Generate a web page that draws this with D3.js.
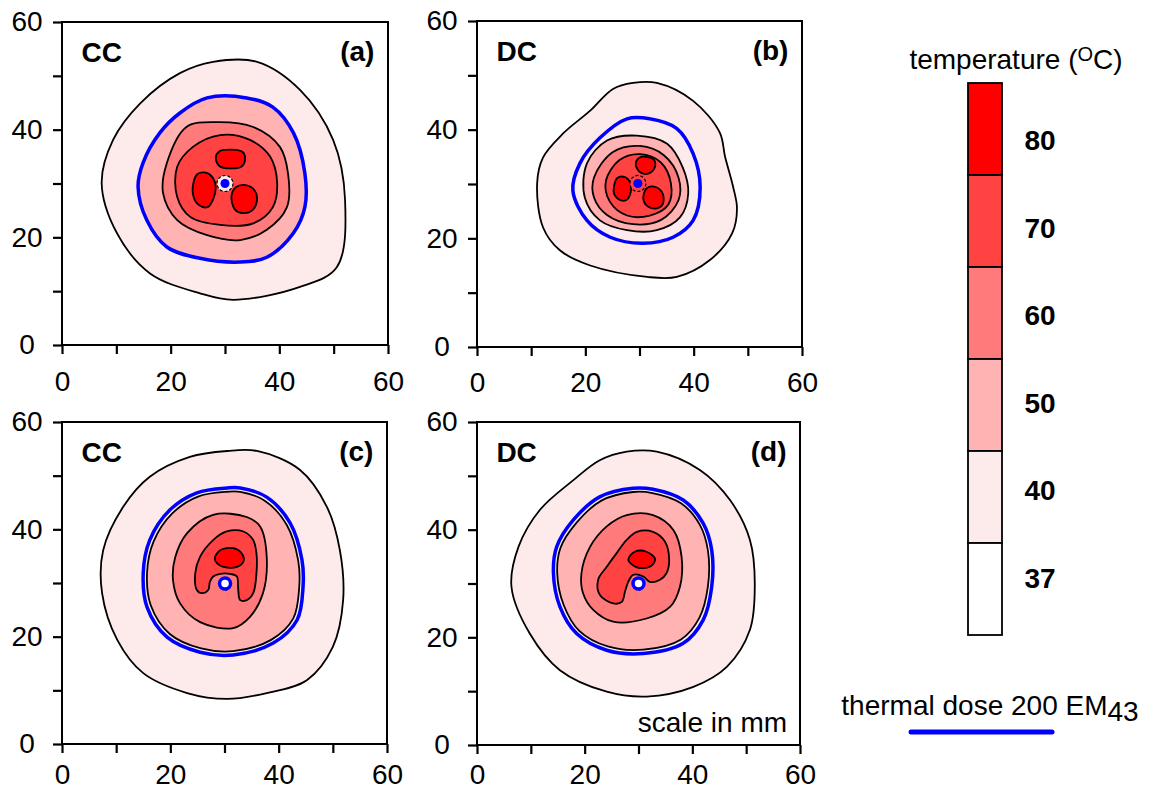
<!DOCTYPE html>
<html>
<head>
<meta charset="utf-8">
<script src="https://cdn.jsdelivr.net/npm/d3@7"></script>
<style>
    body { margin: 0; background: #fff; }
    svg { display: block; font-family: "Liberation Sans", Arial, sans-serif; }
</style>
</head>
<body>
<svg id="chart" width="1156" height="794"></svg>
<script>
// temperature levels of the colour bar, top to bottom
const levels = [80, 70, 60, 50, 40, 37];
const levelColors = ['#ff0000', '#ff4242', '#ff7b7b', '#ffb3b3', '#fdebeb', '#ffffff'];
const axisTicks = [0, 10, 20, 30, 40, 50, 60];
const axisLabels = [0, 20, 40, 60];

// isotherms, [x mm, y mm]
const aOuter = [[27.8, 52.6], [35.9, 52.6], [43.8, 47.4], [49.9, 38.1], [52.1, 26.9], [50.6, 14.5], [43.8, 10.8], [31.5, 8.4], [25.4, 9.6], [16.2, 13.3], [10.1, 20.8], [7.3, 30.1], [9.4, 38.1], [14.4, 44.9], [21.7, 50.5]];
const aDose = [[26.7, 45.9], [34.0, 45.9], [38.8, 44.2], [42.6, 39.4], [44.7, 31.9], [44.7, 25.6], [42.6, 20.8], [37.7, 16.3], [32.8, 15.4], [25.4, 16.1], [19.3, 18.2], [15.6, 23.2], [14.0, 29.4], [14.9, 33.8], [18.0, 39.4], [21.7, 43.1]];
const a60 = [[19.3, 33.8], [22.9, 40.5], [28.5, 41.4], [35.2, 40.5], [40.1, 36.8], [41.6, 31.9], [41.4, 25.6], [37.7, 21.4], [32.8, 19.5], [26.7, 20.4], [21.2, 23.2], [18.6, 28.2]];
const a70 = [[21.2, 33.1], [24.1, 36.8], [29.1, 39.0], [34.6, 38.1], [38.3, 35.0], [39.6, 30.1], [38.8, 25.6], [35.2, 22.6], [29.1, 22.3], [23.6, 23.8], [21.2, 27.5]];
const a80 = [
    [[28.3, 34.8], [29.0, 36.0], [31.0, 36.3], [33.2, 35.9], [33.7, 34.5], [33.0, 33.1], [31.0, 32.8], [29.0, 33.2]],
    [[24.2, 30.2], [25.0, 31.8], [26.5, 32.0], [27.8, 31.0], [28.3, 29.3], [27.8, 27.0], [26.8, 25.6], [25.2, 26.0], [24.2, 27.6]],
    [[31.2, 27.8], [32.0, 29.3], [33.8, 29.7], [35.4, 28.8], [35.9, 27.0], [35.0, 25.0], [33.3, 24.5], [31.8, 25.2]],
];

const bOuter = [[28.8, 48.6], [33.2, 48.6], [39.9, 45.3], [44.8, 39.5], [45.8, 35.0], [47.3, 29.4], [48.0, 25.5], [47.1, 20.9], [43.0, 16.0], [36.9, 12.9], [31.4, 12.9], [20.9, 15.0], [15.3, 17.8], [12.2, 22.0], [11.1, 30.1], [12.2, 34.9], [15.9, 39.3], [20.9, 43.5], [25.1, 47.5]];
const bDose = [[27.7, 42.0], [31.9, 42.0], [36.9, 40.2], [39.9, 35.6], [41.2, 29.4], [39.9, 23.3], [36.2, 20.2], [30.6, 19.1], [24.6, 20.2], [20.3, 23.3], [17.7, 28.8], [19.0, 33.8], [22.7, 38.5]];
const b50 = [[20.3, 33.8], [24.0, 38.0], [29.5, 38.9], [35.1, 37.4], [38.0, 33.0], [39.0, 28.3], [37.5, 23.9], [33.2, 21.5], [27.7, 21.5], [22.7, 23.3], [19.9, 27.5]];
const b60 = [[21.6, 31.2], [25.1, 35.9], [30.1, 37.0], [34.5, 35.3], [37.2, 31.2], [37.2, 27.0], [34.0, 23.4], [28.8, 22.6], [24.0, 24.3], [21.6, 27.5]];
const b70 = [[23.8, 30.6], [26.3, 34.4], [30.1, 35.5], [33.9, 34.0], [35.8, 30.1], [35.3, 26.2], [31.9, 24.2], [27.7, 24.2], [24.5, 26.8]];
const b80 = [
    [[29.3, 33.6], [29.9, 34.8], [31.3, 35.0], [32.7, 34.4], [32.8, 33.0], [31.6, 31.9], [30.2, 32.1]],
    [[25.3, 29.6], [25.9, 31.1], [27.2, 31.3], [28.3, 30.2], [28.3, 28.2], [27.5, 27.0], [26.1, 27.2], [25.3, 28.2]],
    [[30.8, 28.2], [31.6, 29.4], [33.1, 29.4], [34.3, 28.2], [34.3, 26.3], [33.2, 25.5], [31.6, 25.8], [30.8, 26.8]],
];

const cOuter = [[30.5, 54.6], [36.0, 54.6], [43.9, 51.1], [48.9, 44.2], [51.3, 36.1], [51.9, 26.8], [50.0, 18.1], [45.2, 11.9], [37.8, 9.5], [30.5, 8.4], [23.1, 9.5], [15.0, 13.2], [10.2, 19.4], [7.4, 28.1], [7.6, 36.1], [11.3, 44.2], [16.2, 49.8], [23.6, 53.5]];
const cDose = [[30.5, 47.7], [32.9, 47.7], [37.8, 46.0], [42.1, 41.2], [44.3, 34.3], [44.5, 29.3], [43.4, 23.1], [39.0, 18.8], [31.6, 16.6], [25.5, 17.1], [19.4, 19.9], [15.7, 25.5], [15.0, 31.9], [16.2, 38.0], [19.9, 43.6], [24.9, 46.8]];
const c50 = [[30.5, 47.0], [32.9, 47.0], [37.5, 45.3], [41.5, 40.8], [43.6, 34.2], [43.8, 29.3], [42.7, 23.4], [38.6, 19.4], [31.6, 17.3], [25.7, 17.8], [19.9, 20.5], [16.4, 25.8], [15.7, 31.9], [16.9, 37.7], [20.4, 43.0], [25.1, 46.1]];
const c60 = [[20.9, 34.8], [23.1, 39.3], [27.9, 42.7], [34.1, 42.3], [36.6, 40.5], [37.8, 34.8], [37.1, 28.1], [34.7, 23.7], [31.6, 21.6], [25.5, 22.7], [21.8, 26.2], [20.5, 30.5]];
const c70 = [[24.9, 28.7], [24.6, 31.8], [25.5, 34.9], [27.9, 38.0], [30.4, 39.6], [33.5, 39.6], [35.3, 38.0], [35.9, 35.5], [35.9, 31.8], [35.3, 28.1], [34.1, 26.8], [32.9, 26.8], [32.5, 29.3], [32.3, 31.2], [31.0, 31.7], [29.2, 31.7], [27.9, 31.2], [27.3, 30.2], [27.0, 28.7], [25.8, 28.1]];
const c80 = [[[28.2, 34.6], [29.2, 36.1], [31.6, 36.5], [33.2, 35.5], [33.5, 34.0], [32.3, 33.0], [29.8, 33.0], [28.6, 33.7]]];

const dOuter = [[27.8, 54.5], [33.4, 54.5], [41.4, 51.1], [47.0, 45.5], [50.7, 38.1], [51.6, 30.0], [50.7, 21.4], [46.4, 14.5], [40.2, 10.8], [31.5, 9.0], [24.1, 9.9], [15.4, 13.9], [9.8, 20.7], [6.4, 29.4], [7.7, 36.8], [11.7, 43.7], [17.9, 49.2], [22.8, 52.9]];
const dDose = [[29.0, 47.7], [32.7, 47.5], [38.3, 45.5], [42.0, 41.2], [43.6, 36.2], [43.6, 29.4], [42.0, 23.2], [38.3, 18.9], [30.9, 17.0], [24.1, 17.6], [18.5, 20.7], [15.4, 25.7], [14.2, 31.9], [14.8, 36.8], [17.9, 41.8], [22.8, 46.1]];
const d50 = [[29.0, 47.0], [32.6, 46.8], [37.9, 44.9], [41.4, 40.9], [42.9, 36.1], [42.9, 29.5], [41.3, 23.6], [37.9, 19.6], [30.9, 17.7], [24.3, 18.3], [19.0, 21.2], [16.1, 26.0], [14.9, 31.9], [15.5, 36.6], [18.5, 41.3], [23.1, 45.4]];
const d60 = [[19.4, 31.9], [21.0, 36.8], [24.1, 40.6], [27.8, 42.7], [32.7, 42.7], [36.5, 39.9], [38.0, 35.0], [37.7, 29.4], [35.9, 25.7], [31.5, 23.5], [25.3, 22.9], [21.6, 25.1], [19.7, 28.2]];
const d70 = [[25.3, 26.3], [22.8, 27.9], [22.5, 30.7], [24.1, 33.1], [25.9, 35.6], [27.8, 38.1], [29.7, 39.6], [32.7, 39.6], [34.9, 37.8], [35.7, 34.4], [35.2, 31.9], [34.0, 30.7], [32.1, 30.3], [30.9, 31.3], [29.0, 31.6], [28.1, 30.3], [27.5, 28.5], [26.9, 26.6]];
const d80 = [[[28.1, 34.4], [29.3, 35.9], [31.5, 35.9], [33.1, 34.5], [32.1, 33.1], [29.7, 33.0]]];

// applicator position in each panel
const applicators = [[30.0, 30.0], [29.7, 30.1], [30.1, 29.9], [30.0, 30.0]];
const modes = ['CC', 'DC', 'CC', 'DC'];
const tags = ['(a)', '(b)', '(c)', '(d)'];

const color = d3.scaleOrdinal().domain(levels).range(levelColors);

const panels = [
    { left: 62, top: 22, width: 326, height: 323, pad: 17, rings: [[40, aOuter], [50, aDose], [60, a60], [70, a70]], blobs: a80, dose: aDose, cooled: false },
    { left: 477, top: 21, width: 325, height: 326, pad: 16, rings: [[40, bOuter], [50, b50], [60, b60], [70, b70]], blobs: b80, dose: bDose, cooled: false },
    { left: 62, top: 422, width: 325, height: 322, pad: 11, rings: [[40, cOuter], [50, c50], [60, c60], [70, c70]], blobs: c80, dose: cDose, cooled: true },
    { left: 477, top: 422, width: 323, height: 323, pad: 10, rings: [[40, dOuter], [50, d50], [60, d60], [70, d70]], blobs: d80, dose: dDose, cooled: true },
];

const svg = d3.select('#chart');

panels.forEach((p, i) => {
    const g = svg.append('g').attr('transform', `translate(${p.left},${p.top})`);

    const xScale = d3.scaleLinear().domain([0, 60]).range([0, p.width]);
    const yScale = d3.scaleLinear().domain([0, 60]).range([p.height, 0]);

    const contour = d3.line()
        .x((d) => xScale(d[0]))
        .y((d) => yScale(d[1]))
        .curve(d3.curveCatmullRomClosed.alpha(0.5));

    // filled isotherms, outside in
    p.rings.forEach(([level, pts]) => {
        g.append('path')
            .attr('d', contour(pts))
            .attr('fill', color(level))
            .attr('stroke', '#000')
            .attr('stroke-width', 1.8);
    });
    p.blobs.forEach((pts) => {
        g.append('path')
            .attr('d', contour(pts))
            .attr('fill', color(80))
            .attr('stroke', '#000')
            .attr('stroke-width', 1.8);
    });

    // thermal dose line
    g.append('path')
        .attr('d', contour(p.dose))
        .attr('fill', 'none')
        .attr('stroke', '#0000ff')
        .attr('stroke-width', 3.5);

    // applicator
    const [ax, ay] = applicators[i];
    if (p.cooled) {
        g.append('circle')
            .attr('cx', xScale(ax)).attr('cy', yScale(ay) + 3).attr('r', 4)
            .attr('fill', 'none').attr('stroke', '#000').attr('stroke-width', 1)
            .attr('stroke-dasharray', '2,2');
        g.append('circle')
            .attr('cx', xScale(ax)).attr('cy', yScale(ay)).attr('r', 5.5)
            .attr('fill', '#ffffff').attr('stroke', '#0000ff').attr('stroke-width', 3.5);
    } else {
        g.append('circle')
            .attr('cx', xScale(ax)).attr('cy', yScale(ay)).attr('r', 8)
            .attr('fill', i === 0 ? color(40) : color(70))
            .attr('stroke', '#000').attr('stroke-width', 1.2)
            .attr('stroke-dasharray', '3,2');
        g.append('circle')
            .attr('cx', xScale(ax)).attr('cy', yScale(ay)).attr('r', 4.5)
            .attr('fill', '#0000ff');
    }

    // axes
    const xAxis = d3.axisBottom(xScale)
        .tickValues(axisTicks)
        .tickSize(9)
        .tickPadding(p.pad)
        .tickFormat((d) => (axisLabels.includes(d) ? d : ''));
    const yAxis = d3.axisLeft(yScale)
        .tickValues(axisTicks)
        .tickSize(9)
        .tickFormat((d) => (axisLabels.includes(d) ? d : ''));

    const gx = g.append('g')
        .attr('transform', `translate(0,${p.height})`)
        .call(xAxis);
    const gy = g.append('g').call(yAxis);
    [gx, gy].forEach((ax) => {
        ax.select('.domain').remove();
        ax.selectAll('line').attr('stroke', '#000').attr('stroke-width', 2.2);
        ax.selectAll('text')
            .attr('fill', '#000')
            .style('font-size', '28px')
            .style('font-family', '"Liberation Sans", Arial, sans-serif');
    });
    gy.selectAll('text')
        .attr('text-anchor', 'middle')
        .attr('x', -35);

    // frame
    g.append('rect')
        .attr('width', p.width)
        .attr('height', p.height)
        .attr('fill', 'none')
        .attr('stroke', '#000')
        .attr('stroke-width', 2);

    // panel labels
    g.append('text')
        .attr('x', xScale(3.6)).attr('y', yScale(52.6))
        .style('font-size', '28px').style('font-weight', 'bold')
        .text(modes[i]);
    g.append('text')
        .attr('x', xScale(57.5)).attr('y', yScale(52.8))
        .attr('text-anchor', 'end')
        .style('font-size', '28px').style('font-weight', 'bold')
        .text(tags[i]);

    if (i === 3) {
        g.append('text')
            .attr('x', xScale(57.6)).attr('y', yScale(2.4))
            .attr('text-anchor', 'end')
            .style('font-size', '28px')
            .text('scale in mm');
    }
});

// colour bar
const barY = d3.scaleBand().domain(levels).range([83, 635]);
const labelY = d3.scalePoint().domain(levels).range([140, 578]);
const bar = svg.append('g');

bar.selectAll('rect')
    .data(levels)
    .join('rect')
    .attr('x', 968)
    .attr('y', (d) => barY(d))
    .attr('width', 34)
    .attr('height', barY.bandwidth())
    .attr('fill', (d) => color(d))
    .attr('stroke', '#000')
    .attr('stroke-width', 1.8);

bar.selectAll('text.lvl')
    .data(levels)
    .join('text')
    .attr('class', 'lvl')
    .attr('x', 1040)
    .attr('y', (d) => labelY(d))
    .attr('dy', '0.36em')
    .attr('text-anchor', 'middle')
    .style('font-size', '28px')
    .style('font-weight', 'bold')
    .text((d) => d);

const title = bar.append('text')
    .attr('x', 1016)
    .attr('y', 69)
    .attr('text-anchor', 'middle')
    .style('font-size', '28px');
title.append('tspan').text('temperature (');
title.append('tspan').attr('dy', -8).style('font-size', '20px').text('O');
title.append('tspan').attr('dy', 8).text('C)');

// thermal dose legend
const doseLegend = svg.append('g');
const doseText = doseLegend.append('text')
    .attr('x', 990)
    .attr('y', 715)
    .attr('text-anchor', 'middle')
    .style('font-size', '28px');
doseText.append('tspan').text('thermal dose 200 EM');
doseText.append('tspan').attr('dy', 6).text('43');

doseLegend.append('line')
    .attr('x1', 911).attr('x2', 1052)
    .attr('y1', 732).attr('y2', 732)
    .attr('stroke', '#0000ff')
    .attr('stroke-width', 5)
    .attr('stroke-linecap', 'round');
</script>
</body>
</html>
